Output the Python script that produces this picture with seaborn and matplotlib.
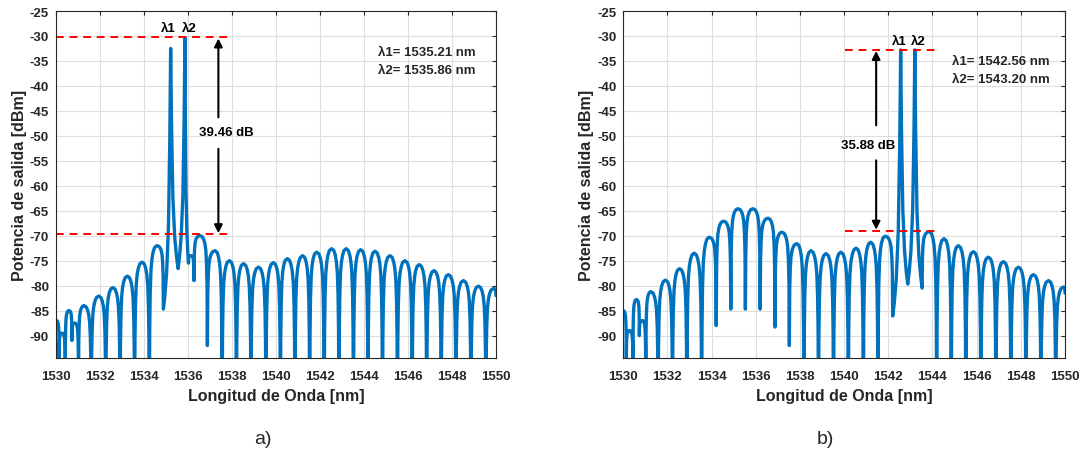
import numpy as np
import pandas as pd
import matplotlib.pyplot as plt
import seaborn as sns

# ================= DATA =================
# a) lobes of the spectrum: peak position / level
peaks_a_nm = [1530.02, 1530.26, 1530.58, 1530.86, 1531.27, 1531.94, 1532.58, 1533.24,
              1533.91, 1534.58, 1535.21, 1535.86, 1536.12, 1536.55, 1537.23, 1537.88,
              1538.52, 1539.20, 1539.88, 1540.51, 1541.21, 1541.85, 1542.53, 1543.19,
              1543.85, 1544.50, 1545.18, 1545.86, 1546.51, 1547.18, 1547.83, 1548.52,
              1549.20, 1549.88]
peaks_a_db = [-87.0, -89.5, -85.0, -87.5, -84.0, -82.1, -80.4, -78.1,
              -75.3, -72.0, -32.5, -30.3, -74.0, -70.0, -73.0, -75.0,
              -75.6, -76.3, -75.4, -74.6, -74.0, -73.3, -72.6, -72.6,
              -72.8, -73.1, -74.0, -75.0, -75.8, -77.0, -77.8, -79.0,
              -80.1, -80.6]
# minima between lobes (first / last = ends of the trace)
nulls_a_nm = [1530.00, 1530.14, 1530.42, 1530.72, 1531.02, 1531.60, 1532.26, 1532.91,
              1533.57, 1534.24, 1534.88, 1535.55, 1536.02, 1536.27, 1536.88, 1537.55,
              1538.20, 1538.86, 1539.54, 1540.20, 1540.86, 1541.53, 1542.19, 1542.86,
              1543.52, 1544.18, 1544.84, 1545.52, 1546.19, 1546.85, 1547.51, 1548.18,
              1548.86, 1549.54, 1550.00]
nulls_a_db = [-88.0, -96.0, -97.0, -91.0, -100.0, -110.0, -110.0, -110.0,
              -110.0, -110.0, -84.7, -76.6, -75.5, -79.0, -92.0, -110.0,
              -110.0, -110.0, -110.0, -110.0, -110.0, -110.0, -110.0, -110.0,
              -110.0, -110.0, -110.0, -110.0, -110.0, -110.0, -110.0, -110.0,
              -110.0, -110.0, -82.0]
lasers_a = [1535.21, 1535.86]

# b)
peaks_b_nm = [1530.00, 1530.28, 1530.59, 1530.88, 1531.25, 1531.91, 1532.55, 1533.21,
              1533.89, 1534.54, 1535.20, 1535.87, 1536.55, 1537.18, 1537.86, 1538.50,
              1539.18, 1539.85, 1540.54, 1541.20, 1541.85, 1542.56, 1543.20, 1543.86,
              1544.52, 1545.17, 1545.85, 1546.53, 1547.21, 1547.89, 1548.57, 1549.25,
              1549.92]
peaks_b_db = [-85.0, -89.0, -82.8, -87.0, -81.2, -78.9, -76.6, -73.5,
              -70.3, -67.1, -64.6, -64.6, -66.5, -69.3, -71.6, -73.0,
              -73.6, -73.3, -72.5, -71.3, -70.1, -32.8, -32.8, -69.2,
              -70.6, -72.0, -73.2, -74.3, -75.2, -76.3, -77.8, -79.0,
              -80.3]
nulls_b_nm = [1530.00, 1530.14, 1530.44, 1530.73, 1531.02, 1531.58, 1532.23, 1532.88,
              1533.55, 1534.21, 1534.87, 1535.53, 1536.20, 1536.87, 1537.52, 1538.18,
              1538.84, 1539.52, 1540.19, 1540.87, 1541.53, 1542.20, 1542.88, 1543.53,
              1544.19, 1544.85, 1545.51, 1546.19, 1546.87, 1547.55, 1548.23, 1548.91,
              1549.58, 1550.00]
nulls_b_db = [-85.5, -96.0, -97.0, -90.0, -100.0, -110.0, -110.0, -110.0,
              -110.0, -88.0, -84.7, -84.7, -84.7, -88.3, -92.0, -110.0,
              -110.0, -110.0, -110.0, -110.0, -110.0, -86.1, -79.7, -80.5,
              -110.0, -110.0, -110.0, -110.0, -110.0, -110.0, -110.0, -110.0,
              -110.0, -81.5]
lasers_b = [1542.56, 1543.20]

legend_a = ['λ1= 1535.21 nm', 'λ2= 1535.86 nm']
legend_b = ['λ1= 1542.56 nm', 'λ2= 1543.20 nm']
contrast_a = '39.46 dB'
contrast_b = '35.88 dB'

# lobe shape used to draw the arch between a peak and its minimum
T_LOBE = [0, 0.3, 0.5, 0.65, 0.78, 0.88, 0.95, 1.0]
G_LOBE = [0, 0.01, 0.035, 0.07, 0.13, 0.25, 0.45, 1.0]
T_SPIKE = [0, 0.04, 0.12, 0.3, 0.55, 0.8, 1.0]
G_SPIKE = [0, 0.12, 0.35, 0.68, 0.86, 0.95, 1.0]


def build_trace(p_nm, p_db, n_nm, n_db, lasers):
    xs, ys = [n_nm[0]], [n_db[0]]
    for i, (px, py) in enumerate(zip(p_nm, p_db)):
        t, g = (T_SPIKE, G_SPIKE) if px in lasers else (T_LOBE, G_LOBE)
        lx, ly = n_nm[i], n_db[i]
        rx, ry = n_nm[i + 1], n_db[i + 1]
        for tt, gg in zip(t[::-1][1:], g[::-1][1:]):
            xs.append(px + (lx - px) * tt)
            ys.append(py + (ly - py) * gg)
        for tt, gg in zip(t[1:], g[1:]):
            xs.append(px + (rx - px) * tt)
            ys.append(py + (ry - py) * gg)
    return pd.DataFrame({'nm': xs, 'dBm': ys})


df_a = build_trace(peaks_a_nm, peaks_a_db, nulls_a_nm, nulls_a_db, lasers_a)
df_b = build_trace(peaks_b_nm, peaks_b_db, nulls_b_nm, nulls_b_db, lasers_b)

# ================= STYLE =================
sns.set_theme(style='whitegrid')
plt.rcParams['font.family'] = ['Liberation Sans', 'DejaVu Sans']
plt.rcParams['font.weight'] = 'bold'
plt.rcParams['axes.unicode_minus'] = False

dark = '#262626'
blue = '#0072BD'

fig = plt.figure(figsize=(10.82, 4.64), dpi=100)
ax_a = fig.add_axes([0.0518, 0.2263, 0.4066, 0.7478])
ax_b = fig.add_axes([0.5760, 0.2263, 0.4083, 0.7478])


def style_axes(ax):
    ax.set_xlim(1530, 1550)
    ax.set_ylim(-94.5, -25)
    ax.set_xticks(np.arange(1530, 1551, 2))
    ax.set_yticks(np.arange(-90, -24, 5))
    ax.grid(True, color='#dedede', lw=0.8)
    for s in ax.spines.values():
        s.set_color(dark)
        s.set_linewidth(0.8)
    ax.tick_params(direction='in', length=3, width=0.8, colors=dark,
                   labelsize=9.5, top=True, right=True, pad=5)
    ax.tick_params(axis='x', pad=9)
    for lab in ax.get_xticklabels() + ax.get_yticklabels():
        lab.set_fontweight('bold')
    ax.set_xlabel('Longitud de Onda [nm]', fontsize=11.5, fontweight='bold', color=dark, labelpad=4)
    ax.set_ylabel('Potencia de salida [dBm]', fontsize=11.5, fontweight='bold', color=dark, labelpad=2)


def annotate(ax, top, bottom, x0, x1, arrow_x, txt, txt_x, txt_y, gap_top, gap_bot,
             lam_x, lam_y, legend, leg_x, leg_y):
    ax.plot([x0, x1], [top, top], color='red', ls=(0, (4, 3)), lw=1.4)
    ax.plot([x0, x1], [bottom, bottom], color='red', ls=(0, (4, 3)), lw=1.4)
    ap = dict(arrowstyle='-|>', color='black', lw=1.5, mutation_scale=12, shrinkA=0, shrinkB=0)
    ax.annotate('', xy=(arrow_x, top - 0.2), xytext=(arrow_x, gap_top), arrowprops=ap)
    ax.annotate('', xy=(arrow_x, bottom + 0.2), xytext=(arrow_x, gap_bot), arrowprops=ap)
    ax.text(txt_x, txt_y, txt, ha='center', va='center', fontsize=9.5, fontweight='bold', color='black')
    ax.text(lam_x[0], lam_y, 'λ1', ha='center', va='center', fontsize=9.5, fontweight='bold', color='black')
    ax.text(lam_x[1], lam_y, 'λ2', ha='center', va='center', fontsize=9.5, fontweight='bold', color='black')
    ax.text(leg_x, leg_y[0], legend[0], ha='left', va='center', fontsize=9.5, fontweight='bold', color=dark)
    ax.text(leg_x, leg_y[1], legend[1], ha='left', va='center', fontsize=9.5, fontweight='bold', color=dark)


for ax, df in [(ax_a, df_a), (ax_b, df_b)]:
    sns.lineplot(data=df, x='nm', y='dBm', ax=ax, sort=False, estimator=None,
                 color=blue, lw=2.4)
    style_axes(ax)

annotate(ax_a, -30.3, -69.7, 1530.0, 1537.8, 1537.38, contrast_a, 1537.73, -49.3, -46.3, -52.6,
         [1535.10, 1536.06], -28.4, legend_a, 1544.65, [-33.2, -36.8])
annotate(ax_b, -32.8, -69.0, 1540.03, 1544.1, 1541.45, contrast_b, 1541.10, -51.9, -47.9, -54.9,
         [1542.50, 1543.37], -31.0, legend_b, 1544.9, [-35.1, -38.6])

fig.text(263 / 1082, 1 - 440 / 464, 'a)', ha='center', va='center', fontsize=14, fontweight='normal')
fig.text(825 / 1082, 1 - 440 / 464, 'b)', ha='center', va='center', fontsize=14, fontweight='normal')

plt.savefig('out.png', dpi=100)
